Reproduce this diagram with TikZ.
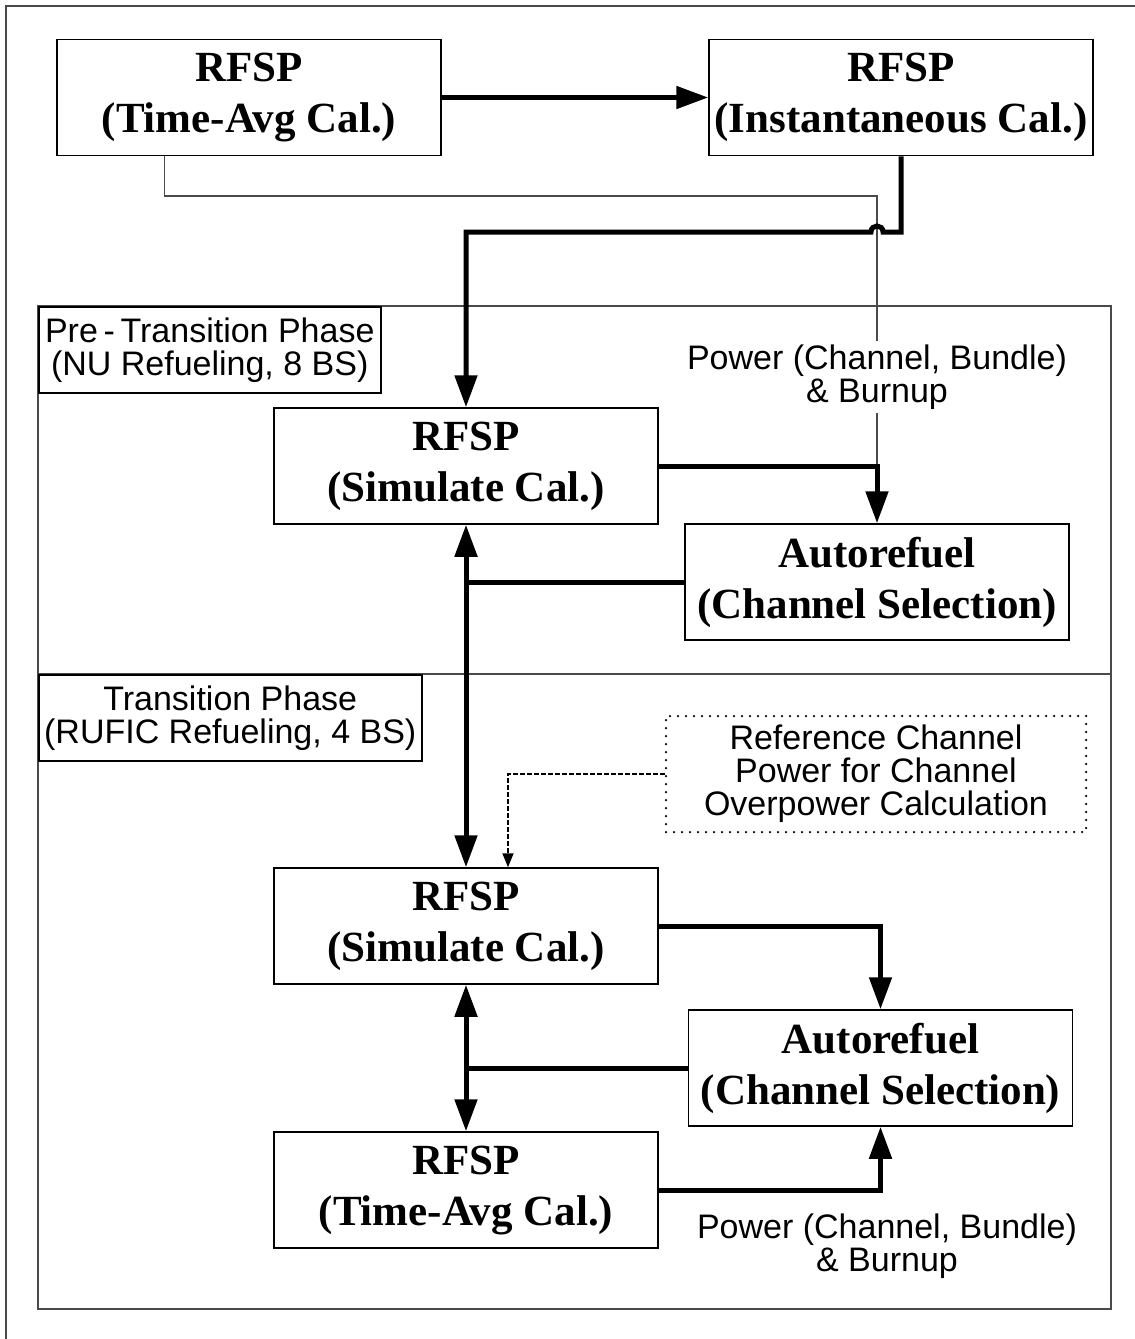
\documentclass[tikz,border=0pt]{standalone}
\usepackage{fontspec}
\setmainfont{Liberation Serif}
\newfontfamily\labelfont{Liberation Sans}
\usetikzlibrary{arrows.meta,calc,positioning}
\definecolor{Ink}{HTML}{000000}
\definecolor{FrameGray}{HTML}{4A4A4A}

\begin{document}
\begin{tikzpicture}[x=1pt,y=-1pt,every node/.style={font=\fontsize{43}{51}\selectfont\bfseries},
    calcbox/.style={draw=Ink,line width=1.5pt,minimum width=384pt,minimum height=116pt,inner sep=0pt,align=center},
    phasetag/.style={draw=Ink,line width=1.5pt,anchor=north west,minimum height=86pt,inner sep=0pt,align=center,font=\labelfont\fontsize{34}{33}\selectfont},
    flowlabel/.style={inner sep=3pt,align=center,font=\labelfont\fontsize{34}{33}\selectfont},
    flow/.style={line width=5pt,Ink,-{Triangle[length=32pt,width=22pt]}},
    twoway/.style={line width=5pt,Ink,{Triangle[length=32pt,width=22pt]}-{Triangle[length=32pt,width=22pt]}},
    feed/.style={line width=1.5pt,FrameGray}]
    \useasboundingbox (0,0) rectangle (1135,1339);
    \draw[line width=2pt,FrameGray] (1135,6) -- (6,6) -- (6,1339);

    % phase regions
    \draw[line width=1.5pt,FrameGray] (38,306) rectangle (1111,674);
    \draw[line width=1.5pt,FrameGray] (38,674) rectangle (1111,1309);
    \node[phasetag,minimum width=342pt] (pretag) at (38,306) {Pre\,-\,Transition Phase\\(NU Refueling, 8 BS)};
    \node[phasetag,minimum width=383pt] (transtag) at (38,674) {Transition Phase\\(RUFIC Refueling, 4 BS)};

    \node[calcbox] (tavg) at (249,97.5) {RFSP\\(Time-Avg Cal.)};
    \node[calcbox] (inst) at (901,97.5) {RFSP\\(Instantaneous Cal.)};
    \node[calcbox] (sim1) at (466,466) {RFSP\\(Simulate Cal.)};
    \node[calcbox] (auto1) at (877,582) {Autorefuel\\(Channel Selection)};
    \node[calcbox] (sim2) at (466,926) {RFSP\\(Simulate Cal.)};
    \node[calcbox] (auto2) at (880.5,1068) {Autorefuel\\(Channel Selection)};
    \node[calcbox] (tavg2) at (466,1190) {RFSP\\(Time-Avg Cal.)};

    \node[flowlabel] (pwrA) at (877,377) {Power (Channel, Bundle)\\\& Burnup};
    \node[flowlabel] (pwrB) at (887,1246) {Power (Channel, Bundle)\\\& Burnup};
    \node[flowlabel,draw=Ink,line width=2.5pt,dash pattern=on 0pt off 8pt,line cap=round,minimum width=420pt,minimum height=116pt] (refpow) at (876,774) {Reference Channel\\Power for Channel\\Overpower Calculation};

    \coordinate (feedtop) at ($(tavg.south west)+(108,0)$);
    \coordinate (feedturn) at (877,196);
    \coordinate (hopR) at (883,232);
    \coordinate (hopL) at (871,232);

    % time-avg to instantaneous, thin power feed
    \draw[flow] (tavg.east) -- (inst.west);
    \draw[feed] (feedtop) |- (feedturn) -- (pwrA.north);
    \draw[feed] (pwrA.south) -- (pwrA.south |- sim1.east);
    \draw[flow] (inst.south) |- (hopR) .. controls ($(hopR)+(0,-8)$) and ($(hopL)+(0,-8)$) .. (hopL) -- (sim1.north |- hopL) -- (sim1.north);

    % pre-transition loop
    \draw[flow] (sim1.east) -| (auto1.north);
    \draw[line width=5pt,Ink] (auto1.west) -- (sim1.south |- auto1.west);
    \draw[twoway] (sim1.south) -- (sim2.north);

    % transition loop
    \draw[line width=1.5pt,Ink,dash pattern=on 5pt off 2pt,-{Triangle[length=14pt,width=11pt]}] (refpow.west) -| ($(sim2.north)+(42,0)$);
    \draw[flow] (sim2.east) -| (auto2.north);
    \draw[line width=5pt,Ink] (auto2.west) -- (sim2.south |- auto2.west);
    \draw[twoway] (sim2.south) -- (tavg2.north);
    \draw[flow] (tavg2.east) -| (auto2.south);
\end{tikzpicture}
\end{document}
